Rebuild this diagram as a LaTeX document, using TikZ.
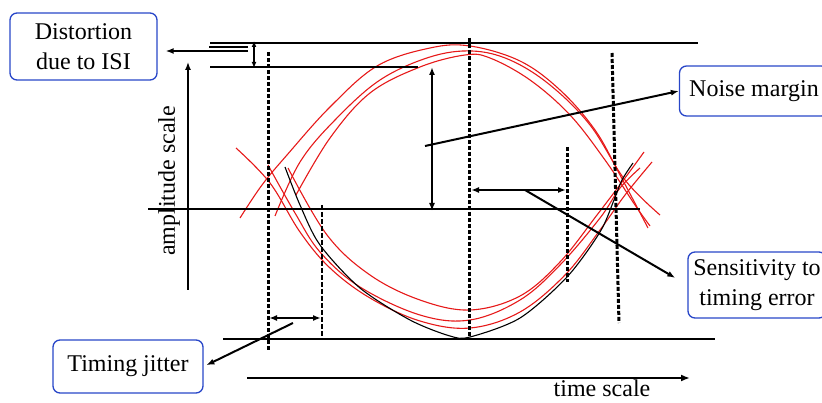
\documentclass[tikz,border=0pt]{standalone}
\usepackage{fontspec}
\setmainfont{Liberation Serif}
\usetikzlibrary{arrows.meta}
\definecolor{boxblue}{RGB}{40,70,200}
\definecolor{eyered}{RGB}{230,25,25}
\tikzset{
  lbl/.style={draw=boxblue, line width=1.3pt, rounded corners=7pt, font=\fontsize{24}{30}\selectfont, align=center, inner sep=0pt},
  axis/.style={line width=1.2pt},
  dash thick/.style={line width=3pt, dash pattern=on 4pt off 2pt},
  dash thin/.style={line width=1.3pt, dash pattern=on 5pt off 2pt},
  arr/.style={line width=2pt, -{Latex[length=8pt,width=6pt]}},
  darr/.style={line width=2pt, {Latex[length=8pt,width=6pt]}-{Latex[length=8pt,width=6pt]}},
  eye/.style={eyered, line width=1.1pt},
  blk/.style={black, line width=1.1pt},
}
\begin{document}
\begin{tikzpicture}[x=1pt,y=-1pt]
\useasboundingbox (0,0) rectangle (822,403);
% boxes
\node[lbl, minimum width=147pt, minimum height=67pt] (dist) at (83.5,46.5) {Distortion\\due to ISI};
\node[lbl, minimum width=149pt, minimum height=50pt] (nm) at (754,91) {Noise margin};
\node[lbl, minimum width=138pt, minimum height=66pt] (sens) at (757,285) {Sensitivity to\\timing error};
\node[lbl, minimum width=150pt, minimum height=53pt] (tj) at (128,366.5) {Timing jitter};
% text labels
\node[font=\fontsize{24}{30}\selectfont, rotate=90] (amp) at (169,181) {amplitude scale};
\node[font=\fontsize{24}{30}\selectfont, anchor=base] (ts) at (602,396) {time scale};
% red eye curves (upper)
\draw[eye] plot[smooth, tension=0.6] coordinates {(240,218) (262,185) (287,155) (330,107) (377,66) (430,48) (470,46) (520,61) (560,90) (595,130) (620,175) (648,228)};
\draw[eye] plot[smooth, tension=0.6] coordinates {(275,216) (300,162) (335,120) (380,80) (430,57) (472,51) (510,60) (550,85) (590,125) (625,180) (660,215)};
\draw[eye] plot[smooth, tension=0.6] coordinates {(296,195) (330,138) (370,93) (420,67) (465,55) (490,58) (530,80) (570,115) (605,160) (635,205) (650,226)};
% red eye curves (lower)
\draw[eye] plot[smooth, tension=0.6] coordinates {(236,148) (270,183) (300,232) (330,268) (370,298) (420,321) (470,328) (520,312) (565,275) (600,230) (625,195) (652,162)};
\draw[eye] plot[smooth, tension=0.6] coordinates {(268,165) (295,213) (320,252) (360,287) (420,315) (470,320) (520,300) (560,265) (600,218) (620,188) (640,168)};
\draw[eye] plot[smooth, tension=0.6] coordinates {(288,168) (327,235) (370,275) (420,300) (470,310) (520,296) (560,262) (597,215) (625,178) (644,152)};
% black trajectory
\draw[blk] plot[smooth, tension=0.5] coordinates {(285,167) (300,205) (320,245) (360,288) (410,320) (450,336) (470,337) (520,318) (567,277) (600,232) (614,200) (622,180) (633,163)};
% reference lines
\draw[axis] (210,43) -- (698,43);
\draw[axis] (210,67) -- (418,67);
\draw[axis] (209,47) -- (248,47);
\draw[axis] (148,209) -- (640,209);
\draw[axis] (223,339) -- (715,339);
% dashed verticals
\draw[dash thick] (268.5,52) -- (268.5,350);
\draw[dash thin] (322,205) -- (322,340);
\draw[dash thick] (469.5,38) -- (469.5,338);
\draw[dash thick] (567.5,147) -- (567.5,282);
\draw[dash thick] (612,53) -- (619,323);
% amplitude axis
\coordinate (ampbot) at (188,290);
\coordinate (ampmid) at (188,180);
\coordinate (amptop) at (188,62);
\draw[line width=1.4pt, -{Latex[length=8pt,width=6pt]}] (ampmid) -- (amptop);
\draw[line width=2.4pt] (ampbot) -- (ampmid);
% time axis
\coordinate (tleft) at (247,378);
\coordinate (tright) at (690,378);
\draw[line width=1.8pt, -{Latex[length=9pt,width=7pt]}] (tleft) -- (tright);
% ISI distortion
\coordinate (isiA) at (254,41);
\coordinate (isiB) at (254,68);
\draw[line width=1.5pt, {Latex[length=6pt,width=5pt]}-{Latex[length=6pt,width=5pt]}] (isiA) -- (isiB);
\coordinate (isiS) at (248,51);
\draw[arr] (isiS) -- ([xshift=8pt]dist.east |- isiS);
% noise margin
\coordinate (nmA) at (432,67);
\coordinate (nmB) at (432,211);
\draw[darr] (nmA) -- (nmB);
\coordinate (nmS) at (425,146);
\draw[arr] (nmS) -- (nm.west);
% sensitivity
\coordinate (seA) at (471,190);
\coordinate (seB) at (566,190);
\draw[darr] (seA) -- (seB);
\coordinate (seS) at (525,190);
\draw[arr, shorten >=14pt] (seS) -- (sens.west);
% timing jitter
\coordinate (tjA) at (269,318);
\coordinate (tjB) at (321,318);
\draw[darr] (tjA) -- (tjB);
\coordinate (tjS) at (293,323);
\draw[arr, shorten >=3pt] (tjS) -- (tj.east);
\end{tikzpicture}
\end{document}
